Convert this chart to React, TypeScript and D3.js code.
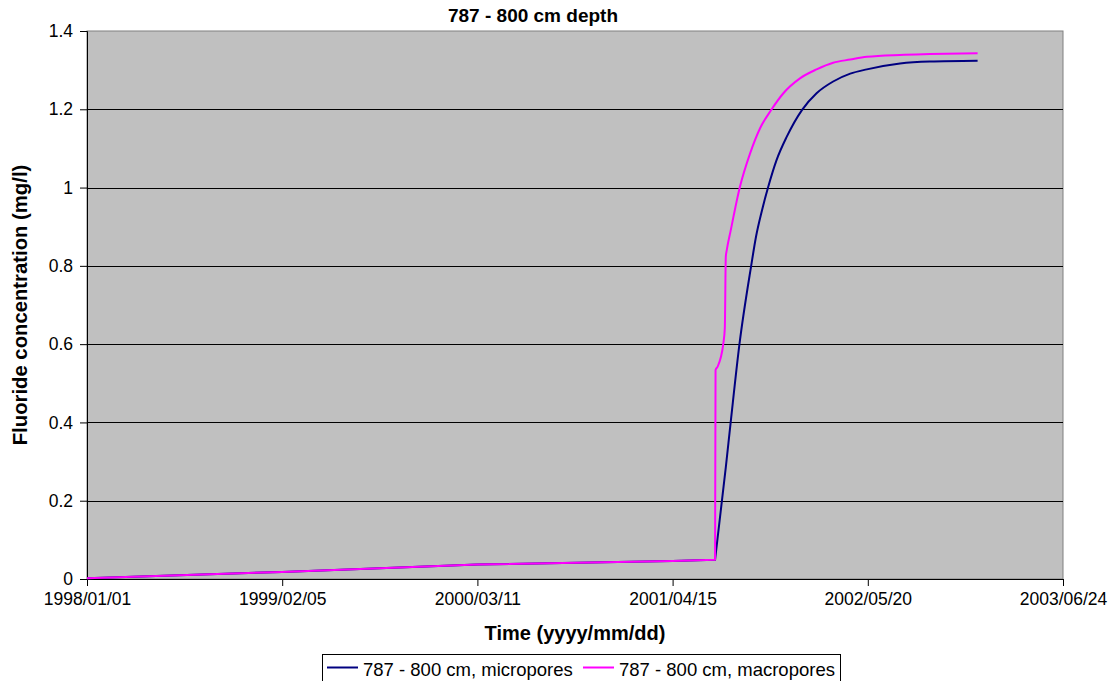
import { useEffect, useRef } from "react"
import * as d3 from "d3"

// x axis tick labels (every 400 days)
const tickLabels = ["1998/01/01", "1999/02/05", "2000/03/11", "2001/04/15", "2002/05/20", "2003/06/24"]
const yTicks = [0, 0.2, 0.4, 0.6, 0.8, 1, 1.2, 1.4]

// 787 - 800 cm, micropores
const microDates = [
  "1998-01-01", "1999-02-05", "2000-03-11", "2001-04-15", "2001-07-11",
  "2001-08-02", "2001-08-12", "2001-08-30", "2001-09-23", "2001-10-03",
  "2001-10-15", "2001-10-28", "2001-11-14", "2001-12-05", "2002-01-05",
  "2002-02-04", "2002-03-10", "2002-04-14", "2002-05-18", "2002-07-25",
  "2002-09-24", "2002-12-31",
]
const microValues = [
  0.002, 0.018, 0.037, 0.046, 0.049,
  0.285, 0.4, 0.6, 0.8, 0.875,
  0.941, 1.002, 1.07, 1.13, 1.198,
  1.241, 1.271, 1.291, 1.302, 1.317,
  1.322, 1.324,
]

// 787 - 800 cm, macropores
const macroDates = [
  "1998-01-01", "1999-02-05", "2000-03-11", "2001-04-15", "2001-07-11",
  "2001-07-12", "2001-07-16", "2001-07-28", "2001-07-31", "2001-08-02",
  "2001-08-04", "2001-08-12", "2001-08-31", "2001-09-21", "2001-10-11",
  "2001-11-04", "2001-11-28", "2002-01-01", "2002-02-04", "2002-03-10",
  "2002-04-14", "2002-05-18", "2002-07-25", "2002-09-24", "2002-12-31",
]
const macroValues = [
  0.002, 0.018, 0.037, 0.046, 0.049,
  0.534, 0.542, 0.602, 0.641, 0.823,
  0.84, 0.89, 1.002, 1.088, 1.151,
  1.2, 1.241, 1.279, 1.302, 1.319,
  1.327, 1.334, 1.339, 1.341, 1.343,
]

// the breakthrough starts at this sample (2001-07-11) in both series
const breakIndex = 4

const seriesNames = ["787 - 800 cm, micropores", "787 - 800 cm, macropores"]
const seriesColors = ["#000080", "#ff00ff"]

const W = 1115
const H = 681
const FONT = "Liberation Sans, Arial, sans-serif"

const App = () => {
  const ref = useRef<SVGSVGElement>(null)

  useEffect(() => {
    const margin = { top: 31, right: 52, bottom: 102, left: 87 }
    const width = W - margin.left - margin.right
    const height = H - margin.top - margin.bottom

    const svg = d3.select(ref.current)
    svg.selectAll("*").remove()

    const parseDay = d3.utcParse("%Y-%m-%d")
    const parseTick = d3.utcParse("%Y/%m/%d")
    const tickDates = tickLabels.map((t) => parseTick(t) as Date)

    const x = d3
      .scaleUtc()
      .domain([tickDates[0], tickDates[tickDates.length - 1]])
      .range([0, width])
    const y = d3.scaleLinear().domain([0, 1.4]).range([height, 0])

    const g = svg.append("g").attr("transform", "translate(" + margin.left + "," + margin.top + ")")

    // plot background
    g.append("rect")
      .attr("width", width)
      .attr("height", height)
      .attr("fill", "#c0c0c0")
      .attr("stroke", "#808080")
      .attr("stroke-width", 1)

    // grid lines
    g.selectAll(".grid")
      .data(yTicks.slice(1, -1))
      .enter()
      .append("line")
      .attr("x1", 0)
      .attr("x2", width)
      .attr("y1", (d) => Math.round(y(d)) + 0.5)
      .attr("y2", (d) => Math.round(y(d)) + 0.5)
      .attr("stroke", "#000")
      .attr("stroke-width", 1)

    // Y axis
    const yAxis = g
      .append("g")
      .call(
        d3.axisLeft(y).tickValues(yTicks).tickSize(7).tickPadding(7).tickFormat((d) => String(d))
      )
    yAxis.select(".domain").attr("stroke", "#000")
    yAxis.selectAll("text").attr("font-size", "17.5px").attr("font-family", FONT).attr("fill", "#000")

    // X axis
    const xAxis = g
      .append("g")
      .attr("transform", "translate(0," + height + ")")
      .call(
        d3
          .axisBottom(x)
          .tickValues(tickDates)
          .tickSize(7)
          .tickPadding(7)
          .tickFormat((d, i) => tickLabels[i])
      )
    xAxis.select(".domain").attr("stroke", "#000")
    xAxis.selectAll("text").attr("font-size", "17.5px").attr("font-family", FONT).attr("fill", "#000")

    // lines: straight before the breakthrough, smooth after it
    const flatLine = d3
      .line<[Date, number]>()
      .x((d) => x(d[0]))
      .y((d) => y(d[1]))
    const riseLine = d3
      .line<[Date, number]>()
      .x((d) => x(d[0]))
      .y((d) => y(d[1]))
      .curve(d3.curveMonotoneX)

    const series = [
      microDates.map((d, i) => [parseDay(d), microValues[i]] as [Date, number]),
      macroDates.map((d, i) => [parseDay(d), macroValues[i]] as [Date, number]),
    ]

    series.forEach((s, i) => {
      const d = flatLine(s.slice(0, breakIndex + 1)) + riseLine(s.slice(breakIndex)).replace(/^M/, "L")
      g.append("path")
        .attr("d", d)
        .attr("fill", "none")
        .attr("stroke", seriesColors[i])
        .attr("stroke-width", 2)
        .attr("stroke-linejoin", "round")
    })

    // titles
    svg.append("text")
      .attr("x", 533)
      .attr("y", 22)
      .attr("text-anchor", "middle")
      .attr("font-family", FONT)
      .attr("font-weight", "bold")
      .attr("font-size", "19px")
      .text("787 - 800 cm depth")

    svg.append("text")
      .attr("x", margin.left + width / 2)
      .attr("y", 640)
      .attr("text-anchor", "middle")
      .attr("font-family", FONT)
      .attr("font-weight", "bold")
      .attr("font-size", "20px")
      .text("Time (yyyy/mm/dd)")

    svg.append("text")
      .attr("transform", "translate(27," + (margin.top + height / 2) + ") rotate(-90)")
      .attr("text-anchor", "middle")
      .attr("font-family", FONT)
      .attr("font-weight", "bold")
      .attr("font-size", "20.3px")
      .text("Fluoride concentration (mg/l)")

    // legend
    const legend = svg.append("g").attr("transform", "translate(322,654)")
    legend.append("rect")
      .attr("x", 0.5)
      .attr("y", 0.5)
      .attr("width", 518)
      .attr("height", 32)
      .attr("fill", "#fff")
      .attr("stroke", "#000")
    const offsets = [0, 256]
    seriesNames.forEach((name, i) => {
      const lg = legend.append("g").attr("transform", "translate(" + offsets[i] + ",0)")
      lg.append("line")
        .attr("x1", 5)
        .attr("x2", 36)
        .attr("y1", 13.5)
        .attr("y2", 13.5)
        .attr("stroke", seriesColors[i])
        .attr("stroke-width", 2)
      lg.append("text")
        .attr("x", 41)
        .attr("y", 22)
        .attr("font-family", FONT)
        .attr("font-size", "18.5px")
        .text(name)
    })
  }, [])

  return (
    <svg
      ref={ref}
      width={W}
      height={H}
      style={{ position: "absolute", left: 0, top: 0, background: "#fff" }}
    />
  )
}

export default App
